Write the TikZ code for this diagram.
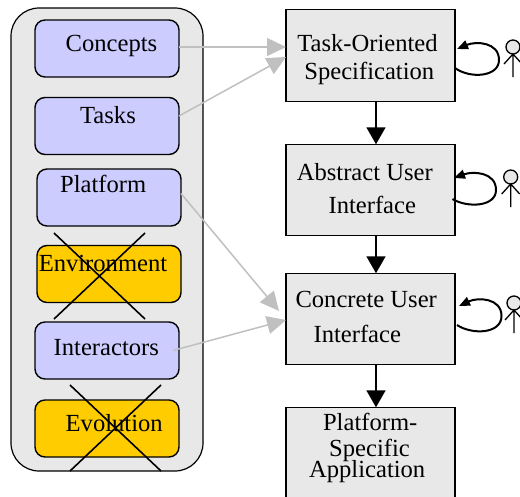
\documentclass[tikz,border=0pt]{standalone}
\usepackage{fontspec}
\setmainfont{Liberation Serif}
\usetikzlibrary{arrows.meta}
\tikzset{
    modelbox/.style={draw, line width=1.4pt, rounded corners=10pt, minimum width=144pt, minimum height=57pt, inner sep=0pt, outer sep=0pt},
    kept/.style={modelbox, fill=lavender},
    dropped/.style={modelbox, fill=gold},
    stagebox/.style={draw, line width=1.4pt, fill=panel, minimum width=169pt, minimum height=91.5pt, inner sep=0pt, outer sep=0pt},
    caption/.style={anchor=base, inner sep=0pt, font=\fontsize{24.6}{26}\selectfont},
    maparrow/.style={draw=mapgray, line width=1.5pt, -{Triangle[length=19pt,width=18pt]}},
    steparrow/.style={line width=1.8pt, -{Triangle[length=17pt,width=19pt]}},
    loopline/.style={line width=2pt, -{Triangle[length=11pt,width=9pt]}},
    crossline/.style={line width=1.6pt},
    actorhead/.style={draw, circle, line width=1.3pt, fill=panel, minimum size=14pt, inner sep=0pt, outer sep=0pt},
    actorline/.style={line width=1.3pt}
}
\definecolor{lavender}{HTML}{CCCCFF}
\definecolor{gold}{HTML}{FFCC00}
\definecolor{panel}{HTML}{E8E8E8}
\definecolor{mapgray}{HTML}{C0C0C0}
\newcommand{\actor}[1]{\draw[actorline] (#1.south) -- +(0,23) (#1.south) -- +(-9,10) (#1.south) -- +(9,10);}
\begin{document}
\begin{tikzpicture}[x=1pt, y=-1pt]
    \useasboundingbox (0,0) rectangle (520,496);
    \clip (0,0) rectangle (520,496);

    % models column
    \node[draw, line width=1.2pt, fill=panel, rounded corners=28pt, minimum width=192pt, minimum height=463pt, inner sep=0pt] (models) at (107,239.5) {};
    \node[kept] (concepts) at (107,48.5) {};
    \node[kept] (tasks) at (107,126) {};
    \node[kept] (platform) at (109,197.5) {};
    \node[dropped] (environment) at (109,274) {};
    \node[kept] (interactors) at (107,350.5) {};
    \node[dropped] (evolution) at (107,428.5) {};

    % stages
    \node[stagebox] (taskspec) at (370.5,55.5) {};
    \node[stagebox] (abstract) at (370.5,190) {};
    \node[stagebox] (concrete) at (370.5,319) {};
    \node[stagebox] (application) at (370.5,453) {};

    % texts
    \node[caption] (conceptstext) at (111.5,51.5) {Concepts};
    \node[caption] (taskstext) at (108,123.7) {Tasks};
    \node[caption] (platformtext) at (103.2,192.5) {Platform};
    \node[caption] (environmenttext) at (103,271.3) {Environment};
    \node[caption] (interactorstext) at (106.3,355.7) {Interactors};
    \node[caption] (evolutiontext) at (114.2,431.8) {Evolution};
    \node[caption] (taskspectexta) at (367.5,51.7) {Task-Oriented};
    \node[caption] (taskspectextb) at (369.3,79.3) {Specification};
    \node[caption] (abstracttexta) at (364.8,180) {Abstract User};
    \node[caption] (abstracttextb) at (372.3,213.7) {Interface};
    \node[caption] (concretetexta) at (366.2,307) {Concrete User};
    \node[caption] (concretetextb) at (357.3,342.7) {Interface};
    \node[caption] (applicationtexta) at (370.2,430.8) {Platform-};
    \node[caption] (applicationtextb) at (369.5,456) {Specific};
    \node[caption] (applicationtextc) at (367.2,477.5) {Application};

    % crosses
    \coordinate (crossenv) at (99.5,276);
    \coordinate (crossevo) at (115.5,428);
    \draw[crossline] (crossenv) +(-45.5,-43) -- +(45.5,43) +(45.5,-43) -- +(-45.5,43);
    \draw[crossline] (crossevo) +(-45.5,-43) -- +(45.5,43) +(45.5,-43) -- +(-45.5,43);

    % mappings
    \draw[maparrow] ([yshift=1.5pt]concepts.east) -- ([yshift=8.5pt]taskspec.west);
    \draw[maparrow] ([yshift=10pt]tasks.east) -- ([yshift=-1.5pt]taskspec.west);
    \draw[maparrow] ([yshift=4pt]platform.east) -- ([xshift=-7pt,yshift=8pt]concrete.west);
    \draw[maparrow] ([xshift=-6pt]interactors.east) -- ([yshift=-1pt]concrete.west);

    % steps
    \draw[steparrow] ([xshift=5.5pt]taskspec.south) -- ([xshift=5.5pt]abstract.north);
    \draw[steparrow] ([xshift=5.5pt]abstract.south) -- ([xshift=5.5pt]concrete.north);
    \draw[steparrow] ([xshift=5.5pt]concrete.south) -- ([xshift=5.5pt]application.north);

    % loops
    \draw[loopline] ([yshift=-12.5pt]taskspec.east) .. controls (470,79) and (499,77) .. (499,60) .. controls (499,42) and (476,41) .. ([xshift=2pt,yshift=6.5pt]taskspec.east);
    \draw[loopline] ([xshift=-2.5pt,yshift=-9pt]abstract.east) .. controls (467,208) and (496,207) .. (496,190) .. controls (496,172) and (473,171) .. ([xshift=-1pt,yshift=12pt]abstract.east);
    \draw[loopline] ([xshift=2pt,yshift=-6pt]concrete.east) .. controls (472,335) and (501.5,334) .. (501.5,316) .. controls (501.5,298) and (478,297) .. ([xshift=4pt,yshift=13pt]concrete.east);

    % actors
    \node[actorhead] (actortask) at (513,47) {};
    \node[actorhead] (actorabstract) at (510.7,177) {};
    \node[actorhead] (actorconcrete) at (514,303) {};
    \actor{actortask}
    \actor{actorabstract}
    \actor{actorconcrete}
\end{tikzpicture}
\end{document}
